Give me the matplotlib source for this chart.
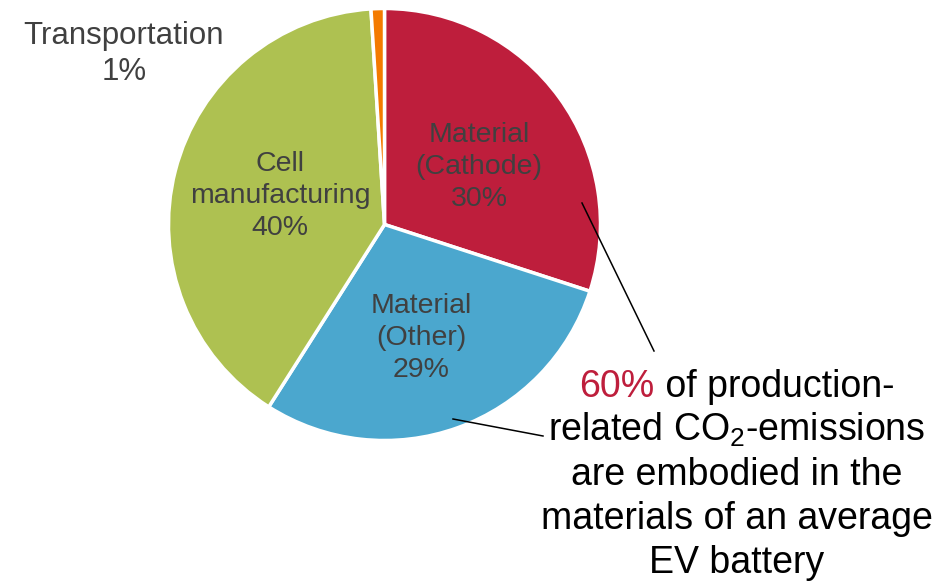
import matplotlib
matplotlib.use("Agg")
import matplotlib.pyplot as plt

plt.rcParams['font.family'] = ['Liberation Sans', 'DejaVu Sans']
plt.rcParams['mathtext.fontset'] = 'custom'
plt.rcParams['mathtext.rm'] = 'Liberation Sans'
plt.rcParams['mathtext.it'] = 'Liberation Sans:italic'

# emission shares of battery production, clockwise from the top
categories = ["Material\n(Cathode)", "Material\n(Other)", "Cell\nmanufacturing", "Transportation"]
shares = [30, 29, 40, 1]
colors = ["#BE1E3C", "#4BA7CE", "#AEC151", "#F47A00"]

note_highlight = "60%"
note_first = " of production-"
note_lines = ["related CO$_2$-emissions", "are embodied in the",
              "materials of an average", "EV battery"]

W, H = 953, 581
fig = plt.figure(figsize=(W / 100, H / 100), dpi=100)
ax = fig.add_axes([0, 0, 1, 1])

# y axis is flipped below, so -90 points up and counterclock runs clockwise on screen
ax.pie(shares, colors=colors, center=(384.5, 224.5), radius=216,
       startangle=-90, counterclock=True, frame=True,
       wedgeprops=dict(edgecolor='white', linewidth=2.5))
ax.set_xlim(0, W)
ax.set_ylim(H, 0)  # pixel-like coordinates, y down
ax.set_aspect('equal')
ax.axis('off')

# slice labels
label_pos = [(479, 167), (421, 338), (280, 196), (124, 54)]
label_size = [20.5, 20.5, 20.5, 22.5]
label_spacing = [1.32, 1.32, 1.32, 1.3]
for name, v, (x, y), fs, ls in zip(categories, shares, label_pos, label_size, label_spacing):
    ax.text(x, y, f"{name}\n{v}%", ha='center', va='center', fontsize=fs,
            color='#404040', linespacing=ls, multialignment='center')

# leader lines from the two material slices to the note
ax.plot([582, 654], [203, 351], color='black', lw=1.1)
ax.plot([453, 543], [419, 436], color='black', lw=1.1)

# note text, one line at a time
cx = 737
baselines = [397, 441, 485, 529, 573]
fs_note = 27
t_hi = ax.text(0, baselines[0], note_highlight, color='#BE1E3C', fontsize=fs_note,
               ha='left', va='baseline')
t_rest = ax.text(0, baselines[0], note_first, color='black', fontsize=fs_note,
                 ha='left', va='baseline')
r = fig.canvas.get_renderer()
w1 = t_hi.get_window_extent(r).width
w2 = t_rest.get_window_extent(r).width
x0 = cx - (w1 + w2) / 2
t_hi.set_x(x0)
t_rest.set_x(x0 + w1)
for line, yb in zip(note_lines, baselines[1:]):
    ax.text(cx, yb, line, color='black', fontsize=fs_note, ha='center', va='baseline')

fig.savefig("out.png", dpi=100, facecolor='white')
